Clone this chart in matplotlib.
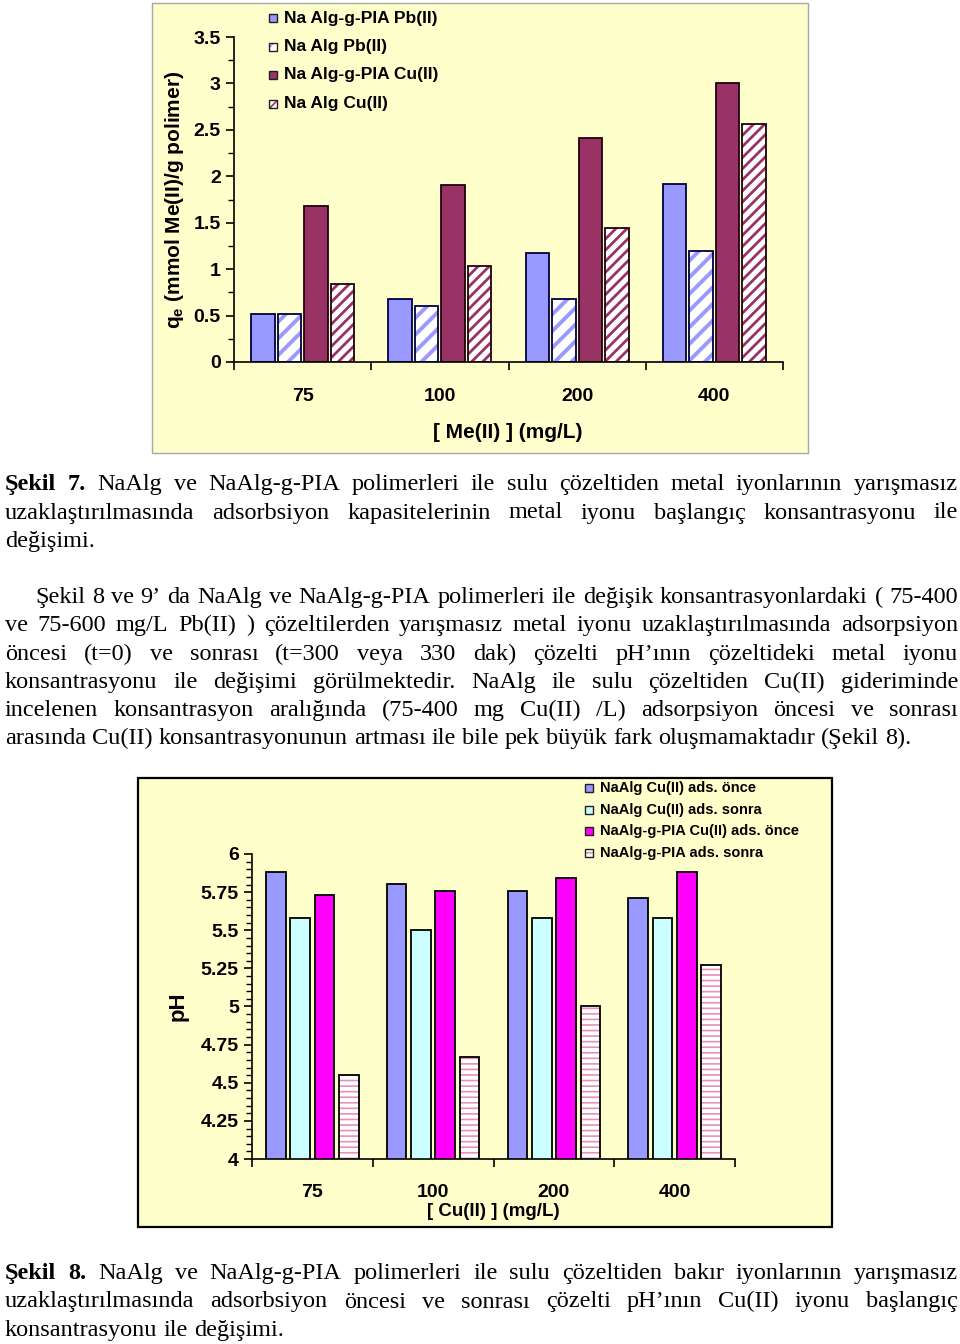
import numpy as np
import matplotlib
matplotlib.use("Agg")
import matplotlib.pyplot as plt
from matplotlib.patches import Rectangle

plt.rcParams['font.family'] = ['Liberation Sans', 'DejaVu Sans']
plt.rcParams['mathtext.fontset'] = 'custom'
plt.rcParams['mathtext.rm'] = 'Liberation Sans:bold'
plt.rcParams['mathtext.bf'] = 'Liberation Sans:bold'

# ---- data: Sekil 7 (qe) ----
conc = ['75', '100', '200', '400']
q_labels = ['Na Alg-g-PIA Pb(II)', 'Na Alg Pb(II)', 'Na Alg-g-PIA Cu(II)', 'Na Alg Cu(II)']
q_pia_pb = [0.52, 0.68, 1.17, 1.92]
q_alg_pb = [0.52, 0.60, 0.68, 1.20]
q_pia_cu = [1.68, 1.91, 2.41, 3.01]
q_alg_cu = [0.84, 1.03, 1.44, 2.56]

# ---- data: Sekil 8 (pH) ----
ph_labels = ['NaAlg Cu(II) ads. önce', 'NaAlg Cu(II) ads. sonra',
             'NaAlg-g-PIA Cu(II) ads. önce', 'NaAlg-g-PIA ads. sonra']
ph_alg_once = [5.88, 5.80, 5.76, 5.71]
ph_alg_sonra = [5.58, 5.50, 5.58, 5.58]
ph_pia_once = [5.73, 5.76, 5.84, 5.88]
ph_pia_sonra = [4.55, 4.67, 5.00, 5.27]

# ---- page text ----
cap7 = ["Şekil 7. NaAlg ve NaAlg-g-PIA polimerleri ile sulu çözeltiden metal iyonlarının yarışmasız",
        "uzaklaştırılmasında adsorbsiyon kapasitelerinin metal iyonu başlangıç konsantrasyonu ile",
        "değişimi."]
para = ["Şekil 8 ve 9’ da NaAlg ve NaAlg-g-PIA polimerleri ile değişik konsantrasyonlardaki ( 75-400",
        "ve 75-600 mg/L Pb(II) ) çözeltilerden yarışmasız metal iyonu uzaklaştırılmasında adsorpsiyon",
        "öncesi (t=0) ve sonrası (t=300 veya 330 dak) çözelti pH’ının çözeltideki metal iyonu",
        "konsantrasyonu ile değişimi görülmektedir. NaAlg ile sulu çözeltiden Cu(II) gideriminde",
        "incelenen konsantrasyon aralığında (75-400 mg Cu(II) /L) adsorpsiyon öncesi ve sonrası",
        "arasında Cu(II) konsantrasyonunun artması ile bile pek büyük fark oluşmamaktadır (Şekil 8)."]
cap8 = ["Şekil 8. NaAlg ve NaAlg-g-PIA polimerleri ile sulu çözeltiden bakır iyonlarının yarışmasız",
        "uzaklaştırılmasında adsorbsiyon öncesi ve sonrası çözelti pH’ının Cu(II) iyonu başlangıç",
        "konsantrasyonu ile değişimi."]

W, H = 960, 1344
fig = plt.figure(figsize=(W / 100, H / 100), dpi=100)
fig.patch.set_facecolor('white')
renderer = fig.canvas.get_renderer()


def fx(x):
    return x / W


def fy(y):
    return 1 - y / H


def pix_axes(l, t, r, b):
    return fig.add_axes([fx(l), fy(b), (r - l) / W, (b - t) / H])


def box(l, t, r, b, ec, lw):
    fig.add_artist(Rectangle((fx(l), fy(b)), (r - l) / W, (b - t) / H, transform=fig.transFigure,
                             facecolor='#FFFFCC', edgecolor=ec, linewidth=lw, zorder=0))


def bars(ax, x, vals, width, face, edge, hatch=None, hcolor=None, hlw=1.0):
    if hatch:
        plt.rcParams['hatch.linewidth'] = hlw
        bc = ax.bar(x, vals, width, color=face, edgecolor=hcolor, hatch=hatch, linewidth=0, zorder=2)
        for p in bc:
            if hasattr(p, 'set_hatch_linewidth'):
                p.set_hatch_linewidth(hlw)
        ax.bar(x, vals, width, fill=False, edgecolor=edge, linewidth=1.3, zorder=3)
    else:
        ax.bar(x, vals, width, color=face, edgecolor=edge, linewidth=1.3, zorder=2)


def leg_item(x, y, s, label, face, edge, size, hatch=None, hcolor=None):
    if hatch:
        plt.rcParams['hatch.linewidth'] = 1.2
        fig.add_artist(Rectangle((fx(x), fy(y + s / 2)), s / W, s / H, transform=fig.transFigure,
                                 facecolor=face, edgecolor=hcolor, hatch=hatch, linewidth=0))
        fig.add_artist(Rectangle((fx(x), fy(y + s / 2)), s / W, s / H, transform=fig.transFigure,
                                 fill=False, edgecolor=edge, linewidth=1.0))
    else:
        fig.add_artist(Rectangle((fx(x), fy(y + s / 2)), s / W, s / H, transform=fig.transFigure,
                                 facecolor=face, edgecolor=edge, linewidth=1.0))
    fig.text(fx(x + s + 7), fy(y), label, fontsize=size, fontweight='bold', va='center', ha='left')


def style_axes(ax, ymin, ymax, major, minor, fs, padx):
    ax.set_facecolor('none')
    ax.set_xlim(-0.5, 3.5)
    ax.set_ylim(ymin, ymax)
    for s in ['top', 'right']:
        ax.spines[s].set_visible(False)
    for s in ['left', 'bottom']:
        ax.spines[s].set_linewidth(1.2)
    ax.set_yticks(np.arange(ymin, ymax + 1e-9, major))
    ax.set_yticks(np.arange(ymin, ymax + 1e-9, minor), minor=True)
    ax.set_xticks([-0.5, 0.5, 1.5, 2.5, 3.5])
    ax.set_xticklabels([])
    ax.set_xticks([0, 1, 2, 3], minor=True)
    ax.set_xticklabels(conc, minor=True, fontsize=fs, fontweight='bold')
    ax.tick_params(axis='x', which='major', direction='out', length=6, width=1.2)
    ax.tick_params(axis='x', which='minor', length=0, pad=padx)
    ax.tick_params(axis='y', which='major', direction='out', length=6, width=1.2, labelsize=fs)
    ax.tick_params(axis='y', which='minor', direction='out', length=4, width=1.0)
    for lab in ax.get_yticklabels():
        lab.set_fontweight('bold')


# ================= chart 1 =================
box(152, 3, 808, 453, '#A8A8A8', 1.0)
ax1 = pix_axes(234, 37, 783, 362)
style_axes(ax1, 0, 3.5, 0.5, 0.25, 14, 19)
ax1.set_yticklabels(['0', '0.5', '1', '1.5', '2', '2.5', '3', '3.5'])
x = np.arange(4)
sp1, w1 = 0.193, 0.172
bars(ax1, x - 1.5 * sp1, q_pia_pb, w1, '#9999FF', '#000040')
bars(ax1, x - 0.5 * sp1, q_alg_pb, w1, 'white', '#000040', '//', '#9999FF', 2.8)
bars(ax1, x + 0.5 * sp1, q_pia_cu, w1, '#993366', '#200010')
bars(ax1, x + 1.5 * sp1, q_alg_cu, w1, 'white', '#200010', '///', '#993366', 2.0)
fig.text(fx(175), fy(200), r'$\mathbf{q}_{\mathbf{e}}$ (mmol Me(II)/g polimer)', rotation=90,
         fontsize=15, fontweight='bold', ha='center', va='center')
fig.text(fx(508), fy(433), '[ Me(II) ] (mg/L)', fontsize=15, fontweight='bold', ha='center', va='center')

c1 = ['#9999FF', 'white', '#993366', 'white']
h1 = [None, '//', None, '///']
hc1 = [None, '#9999FF', None, '#993366']
for i, lab in enumerate(q_labels):
    leg_item(269, 18 + 28.5 * i, 8, lab, c1[i], '#202020', 12.5, h1[i], hc1[i])

# ================= chart 2 =================
box(138, 778, 832, 1227, 'black', 1.6)
ax2 = pix_axes(252, 854, 735, 1159)
style_axes(ax2, 4, 6, 0.25, 0.05, 14, 18)
ax2.set_yticklabels(['4', '4.25', '4.5', '4.75', '5', '5.25', '5.5', '5.75', '6'])
sp2, w2 = 0.201, 0.162
bars(ax2, x - 1.5 * sp2, ph_alg_once, w2, '#9999FF', 'black')
bars(ax2, x - 0.5 * sp2, ph_alg_sonra, w2, '#CCFFFF', 'black')
bars(ax2, x + 0.5 * sp2, ph_pia_once, w2, '#FF00FF', 'black')
bars(ax2, x + 1.5 * sp2, ph_pia_sonra, w2, 'white', 'black', '---', '#E890B8', 1.2)
fig.text(fx(178), fy(1006), 'pH', rotation=90, fontsize=16, fontweight='bold', ha='center', va='center')
fig.text(fx(493), fy(1211), '[ Cu(II) ] (mg/L)', fontsize=13.5, fontweight='bold', ha='center', va='center')

c2 = ['#9999FF', '#CCFFFF', '#FF00FF', 'white']
h2 = [None, None, None, '---']
hc2 = [None, None, None, '#E890B8']
for i, lab in enumerate(ph_labels):
    leg_item(585, 788 + 21.7 * i, 8, lab, c2[i], '#202020', 10.5, h2[i], hc2[i])


# ================= page text =================
def put_line(line, base, x0, x1, size, justify, bold_n=0):
    words = line.split(' ')
    objs = []
    for i, wd in enumerate(words):
        objs.append(fig.text(0, fy(base), wd, fontsize=size, family='Liberation Serif',
                             fontweight='bold' if i < bold_n else 'normal', va='baseline', ha='left'))
    widths = [t.get_window_extent(renderer).width for t in objs]
    if justify and len(words) > 1:
        gap = (x1 - x0 - sum(widths)) / (len(words) - 1)
    else:
        gap = size * 100 / 72 * 0.25
    xx = x0
    for t, wd in zip(objs, widths):
        t.set_x(fx(xx))
        xx += wd + gap


def paragraph(lines, base0, step, size, indent=0, bold_n=0):
    for i, ln in enumerate(lines):
        last = i == len(lines) - 1
        put_line(ln, base0 + step * i, 5 + (indent if i == 0 else 0), 958, size,
                 not last, bold_n if i == 0 else 0)


TS = 17.5
paragraph(cap7, 490, 28.5, TS, bold_n=2)
paragraph(para, 603, 28.3, TS, indent=30)
paragraph(cap8, 1279, 28.5, TS, bold_n=2)

fig.savefig('out.png', dpi=100)
